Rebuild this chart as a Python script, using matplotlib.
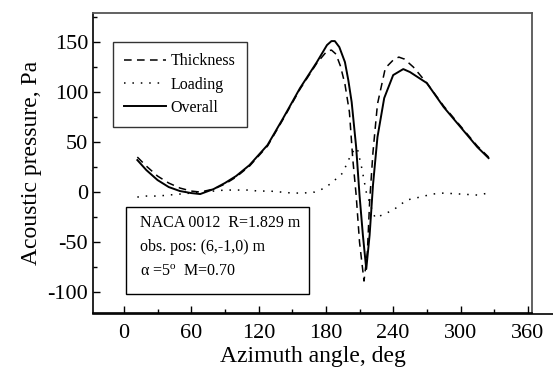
import matplotlib
matplotlib.use('Agg')
import matplotlib.pyplot as plt
from matplotlib.ticker import MultipleLocator
from matplotlib.lines import Line2D
from matplotlib.patches import Rectangle

plt.rcParams['font.family'] = ['Liberation Serif', 'DejaVu Serif']
plt.rcParams['mathtext.fontset'] = 'custom'
plt.rcParams['mathtext.rm'] = 'Liberation Serif'
plt.rcParams['axes.unicode_minus'] = False

# thickness noise (dashed)
az_thick = [12, 20, 30, 40, 50, 60, 68, 80, 90, 100, 112, 128, 142, 157, 172, 181, 185, 189, 193,
            197, 201, 204, 207, 210, 214, 217, 219, 222, 226, 233, 240, 245, 250, 258, 270, 285,
            300, 315, 325]
p_thick = [35, 26, 16, 9, 4, 1, 0, 3, 8, 15, 26, 46, 73, 103, 129, 141, 142, 138, 126,
           108, 80, 33, -3, -50, -89, -60, -10, 40, 88, 124, 132, 135, 133, 125, 109, 86,
           66, 46, 35]

# loading noise (dotted)
az_load = [12, 20, 30, 40, 50, 60, 70, 80, 90, 100, 110, 120, 130, 140, 150, 160, 170, 179,
           186, 195, 201, 205, 208, 212, 216, 220, 224, 230, 240, 252, 264, 275, 285, 300,
           315, 325]
p_load = [-5, -4, -4, -3, -2, -1, 0, 1, 2, 2, 2, 1, 1, 0, -1, -1, 0, 4,
          10, 19, 34, 42, 44, 24, 0, -14, -26, -23, -18, -8, -5, -2, -1, -2,
          -3, -1]

# overall (solid)
az_total = [12, 20, 30, 40, 50, 60, 68, 80, 90, 100, 112, 128, 142, 157, 172, 181, 185, 188,
            192, 197, 200, 203, 207, 210, 213, 216, 219, 222, 226, 232, 240, 249, 255, 270,
            285, 300, 315, 325]
p_total = [32, 22, 12, 5, 1, -1, -2, 3, 9, 16, 27, 47, 74, 104, 130, 147, 151, 151,
           145, 130, 112, 90, 45, -3, -43, -77, -43, 7, 55, 94, 117, 123, 120, 109,
           85, 65, 45, 34]

info_lines = ['NACA 0012  R=1.829 m', 'obs. pos: (6,-1,0) m',
              r'$\mathrm{\alpha}$ =5$^{\mathrm{o}}$  M=0.70']

fig = plt.figure(figsize=(5.53, 3.74), dpi=100)
ax = fig.add_axes([0.168, 0.163, 0.794, 0.802])

ax.plot(az_thick, p_thick, color='black', lw=1.1, linestyle=(0, (5, 3.5)), label='Thickness')
ax.plot(az_load, p_load, color='black', lw=1.1, linestyle=(0, (1, 4.5)), label='Loading')
ax.plot(az_total, p_total, color='black', lw=1.4, label='Overall')

ax.set_xlim(-27.6, 363.7)
ax.set_ylim(-121, 179)
ax.xaxis.set_major_locator(MultipleLocator(60))
ax.xaxis.set_minor_locator(MultipleLocator(30))
ax.yaxis.set_major_locator(MultipleLocator(50))
ax.yaxis.set_minor_locator(MultipleLocator(25))
ax.tick_params(which='both', direction='in', labelsize=16, width=1)
ax.tick_params(which='major', length=5)
ax.tick_params(which='minor', length=3)
ax.tick_params(axis='x', pad=8)

for s in ['top', 'right']:
    ax.spines[s].set_color('#555555')
    ax.spines[s].set_linewidth(1.3)
ax.spines['left'].set_linewidth(1.2)
ax.spines['bottom'].set_linewidth(1.2)

# the bottom axis line runs on to the right edge
fig.add_artist(Line2D([0.168, 1.0], [0.161, 0.161], color='black', lw=1.2,
                      transform=fig.transFigure))

ax.set_xlabel('Azimuth angle, deg', fontsize=17, labelpad=2)
ax.set_ylabel('Acoustic pressure, Pa', fontsize=17, labelpad=4)

leg = ax.legend(loc='upper left', bbox_to_anchor=(0.046, 0.903), borderaxespad=0,
                fontsize=11.5, frameon=True, fancybox=False, edgecolor='black',
                handlelength=2.6, handletextpad=0.3, borderpad=0.7, labelspacing=0.45)
leg.get_frame().set_linewidth(1.0)

# info box
ax.add_patch(Rectangle((0.075, 0.063), 0.417, 0.29, transform=ax.transAxes,
                       fill=False, ec='black', lw=1.0))
for ypos, line in zip([0.30, 0.22, 0.137], info_lines):
    ax.text(0.107, ypos, line, transform=ax.transAxes, fontsize=11.5,
            va='center', ha='left')

fig.savefig('out.png', dpi=100)
